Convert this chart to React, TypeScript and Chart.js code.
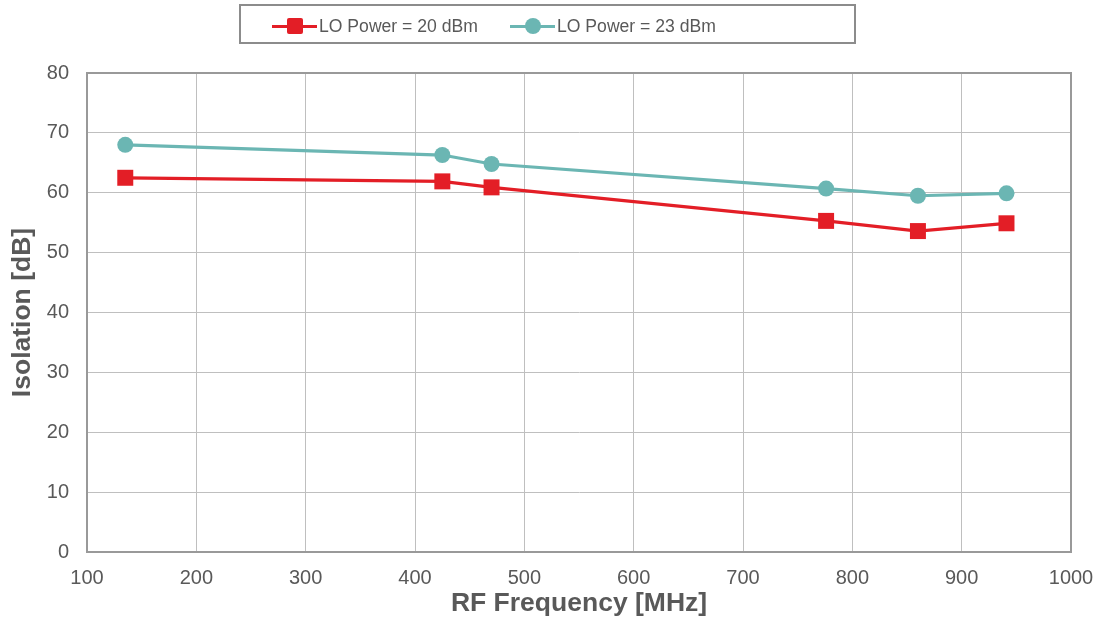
import React, { useEffect, useRef } from "react";
import { Chart, registerables } from "chart.js";

Chart.register(...registerables);

const frequencies = [135, 425, 470, 776, 860, 941];
const lo20 = [62.5, 61.9, 60.9, 55.3, 53.6, 54.9];
const lo23 = [68.0, 66.3, 64.8, 60.7, 59.5, 59.9];
const seriesNames = ["LO Power = 20 dBm", "LO Power = 23 dBm"];
const RED = "#E31E26";
const TEAL = "#6BB6B3";
const TEXT = "#595959";
const FONT = "'Liberation Sans', Arial, Helvetica, sans-serif";

export default function App() {
  const ref = useRef<HTMLCanvasElement | null>(null);

  useEffect(() => {
    if (!ref.current) return;
    const chart = new Chart(ref.current, {
      type: "line",
      data: {
        datasets: [
          {
            label: seriesNames[0],
            data: frequencies.map((x, i) => ({ x, y: lo20[i] })),
            borderColor: RED,
            backgroundColor: RED,
            borderWidth: 3.2,
            pointStyle: "rect",
            pointRadius: 11.3,
            pointHoverRadius: 11.3,
            pointBorderWidth: 0,
            tension: 0,
          },
          {
            label: seriesNames[1],
            data: frequencies.map((x, i) => ({ x, y: lo23[i] })),
            borderColor: TEAL,
            backgroundColor: TEAL,
            borderWidth: 3.2,
            pointStyle: "circle",
            pointRadius: 8,
            pointHoverRadius: 8,
            pointBorderWidth: 0,
            tension: 0,
          },
        ],
      },
      options: {
        responsive: false,
        animation: false,
        layout: { padding: { left: 0, top: 73, right: 31, bottom: 0 } },
        plugins: { legend: { display: false }, tooltip: { enabled: false } },
        scales: {
          x: {
            type: "linear",
            min: 100,
            max: 1000,
            ticks: {
              stepSize: 100,
              color: TEXT,
              font: { family: FONT, size: 20 },
              padding: 14,
              maxRotation: 0,
              callback: (v: any) => String(v),
            },
            grid: { color: "#BFBFBF", lineWidth: 1, drawTicks: false },
            border: { color: "#999999", width: 2 },
            title: {
              display: true,
              text: "RF Frequency [MHz]",
              color: TEXT,
              font: { family: FONT, size: 26.5, weight: "bold" },
              padding: { top: 0, bottom: 13 },
            },
            afterFit: (s: any) => {
              s.height = 81;
              s.paddingLeft = 0;
              s.paddingRight = 0;
            },
          },
          y: {
            min: 0,
            max: 80,
            ticks: {
              stepSize: 10,
              color: TEXT,
              font: { family: FONT, size: 20 },
              padding: 18,
            },
            grid: { color: "#BFBFBF", lineWidth: 1, drawTicks: false },
            border: { color: "#999999", width: 2 },
            title: {
              display: true,
              text: "Isolation [dB]",
              color: TEXT,
              font: { family: FONT, size: 26.5, weight: "bold" },
              padding: { top: 7, bottom: 0 },
            },
            afterFit: (s: any) => {
              s.width = 87;
              s.paddingTop = 0;
              s.paddingBottom = 0;
            },
          },
        },
      },
      plugins: [
        {
          id: "rightTopBorder",
          afterDraw(c: any) {
            const { ctx, chartArea } = c;
            ctx.save();
            ctx.strokeStyle = "#999999";
            ctx.lineWidth = 2;
            ctx.beginPath();
            ctx.moveTo(chartArea.left, chartArea.top);
            ctx.lineTo(chartArea.right, chartArea.top);
            ctx.lineTo(chartArea.right, chartArea.bottom);
            ctx.stroke();
            ctx.restore();
          },
        },
      ],
    } as any);
    return () => chart.destroy();
  }, []);

  const legendItem = (name: string, color: string, square: boolean, left: number) => (
    <div
      style={{
        position: "absolute",
        left,
        top: 0,
        height: 40,
        display: "flex",
        alignItems: "center",
      }}
    >
      <div style={{ position: "relative", width: 45, height: 16 }}>
        <div
          style={{
            position: "absolute",
            left: 0,
            top: 6.5,
            width: 45,
            height: 3,
            background: color,
          }}
        />
        <div
          style={{
            position: "absolute",
            left: 14.5,
            top: 0,
            width: 16,
            height: 16,
            background: color,
            borderRadius: square ? 2 : 8,
          }}
        />
      </div>
      <span
        style={{
          marginLeft: 2,
          fontFamily: FONT,
          fontSize: 17.6,
          color: TEXT,
          whiteSpace: "nowrap",
        }}
      >
        {name}
      </span>
    </div>
  );

  return (
    <div style={{ position: "fixed", left: 0, top: 0, width: 1102, height: 633, background: "#fff" }}>
      <canvas ref={ref} width={1102} height={633} style={{ position: "absolute", left: 0, top: 0 }} />
      <div
        style={{
          position: "absolute",
          left: 239,
          top: 4,
          width: 617,
          height: 40,
          border: "2px solid #8C8C8C",
          boxSizing: "border-box",
          background: "#fff",
        }}
      >
        {legendItem(seriesNames[0], RED, true, 31)}
        {legendItem(seriesNames[1], TEAL, false, 269)}
      </div>
    </div>
  );
}
